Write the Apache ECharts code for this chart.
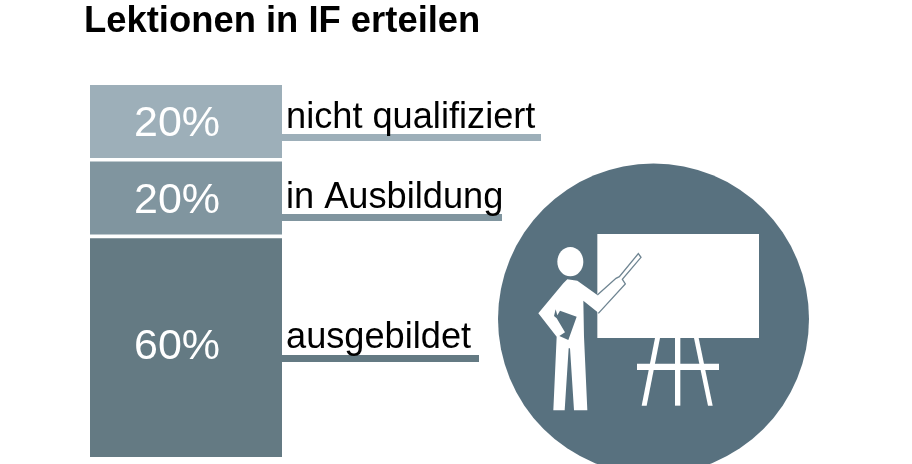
<!DOCTYPE html>
<html>
<head>
<meta charset="utf-8">
<style>
  html, body { margin: 0; background: #fff; }
  #chart { width: 912px; height: 464px; }
</style>
<script src="https://cdn.jsdelivr.net/npm/echarts@6/dist/echarts.min.js"></script>
</head>
<body>
<div id="chart"></div>
<script>
const titleText = 'Lektionen in IF erteilen'
const categories = ['Lektionen']
// bottom to top
const groupNames = ['ausgebildet', 'in Ausbildung', 'nicht qualifiziert']
const groupValues = [60, 20, 20]
const groupColors = ['#647a83', '#80959f', '#9dafb9']
// white space between two segments, in axis units
const gapValue = 1

const font = '"Liberation Sans", Arial, sans-serif'
const circleColor = '#58717f'

const series = []
groupValues.forEach((value, i) => {
  series.push({
    name: groupNames[i],
    type: 'bar',
    stack: 'share',
    barWidth: 192,
    silent: true,
    data: [value],
    itemStyle: { color: groupColors[i] },
    label: {
      show: true,
      position: 'inside',
      offset: [-9, i === 0 ? 0 : 3],
      formatter: '{c}%',
      color: '#fff',
      fontFamily: font,
      fontSize: 43
    }
  })
  if (i < groupValues.length - 1) {
    series.push({
      type: 'bar',
      stack: 'share',
      barWidth: 192,
      silent: true,
      data: [gapValue],
      itemStyle: { color: 'transparent' }
    })
  }
})

// leader under each label, top of the bar sits at the left end
const leaderRight = [479, 502, 541]
const leaderTop = [355, 214, 134]
const labelBottom = [356, 216, 136]

const leaders = groupNames.flatMap((name, i) => [
  {
    type: 'rect',
    shape: { x: 282, y: leaderTop[i], width: leaderRight[i] - 282, height: 7 },
    style: { fill: groupColors[i] }
  },
  {
    type: 'text',
    x: 286,
    y: labelBottom[i],
    style: {
      text: name,
      fill: '#000',
      font: '36.2px ' + font,
      textVerticalAlign: 'bottom'
    }
  }
])

function whitePoly(points) {
  return { type: 'polygon', shape: { points }, style: { fill: '#fff' } }
}

// pictogram, drawn on a 3x grid
const teacher = {
  type: 'group',
  x: 490,
  y: 160,
  scaleX: 1 / 3,
  scaleY: 1 / 3,
  children: [
    // board and easel
    { type: 'rect', shape: { x: 322, y: 222, width: 485, height: 312 }, style: { fill: '#fff' } },
    { type: 'rect', shape: { x: 441, y: 611, width: 246, height: 19 }, style: { fill: '#fff' } },
    { type: 'rect', shape: { x: 555, y: 534, width: 16, height: 203 }, style: { fill: '#fff' } },
    whitePoly([[495, 534], [510, 534], [470, 737], [455, 737]]),
    whitePoly([[612, 534], [626, 534], [668, 737], [654, 737]]),
    // person
    { type: 'ellipse', shape: { cx: 241, cy: 305, rx: 39, ry: 44 }, style: { fill: '#fff' } },
    whitePoly([
      [220, 370], [232, 358], [262, 362], [322, 405], [382, 355], [402, 372],
      [325, 458], [280, 422], [282, 530], [292, 751], [252, 751], [240, 565], [236, 565],
      [224, 751], [190, 751], [200, 530], [145, 460]
    ]),
    // book under the arm
    {
      type: 'polygon',
      shape: { points: [[210, 452], [260, 470], [235, 540], [208, 528], [225, 517], [200, 475], [192, 468], [197, 448], [202, 466]] },
      style: { fill: circleColor }
    },
    // outline of arm and pointer on the board
    whitePoly([[382, 355], [445, 282], [452, 292], [402, 372]]),
    {
      type: 'polyline',
      shape: {
        points: [[322, 405], [378, 355], [388, 350], [445, 281], [453, 292], [397, 358], [406, 372], [325, 460]]
      },
      style: { stroke: '#6f8592', lineWidth: 4, fill: null }
    }
  ]
}

const chart = echarts.init(document.getElementById('chart'), null, { renderer: 'canvas' })
chart.setOption({
  animation: false,
  backgroundColor: '#fff',
  title: {
    text: titleText,
    left: 84,
    top: 4,
    padding: 0,
    textStyle: { color: '#000', fontFamily: font, fontSize: 36.4, fontWeight: 'bold' }
  },
  grid: { left: 90, top: 85, width: 192, height: 372 },
  xAxis: { type: 'category', data: categories, show: false },
  yAxis: { type: 'value', min: 0, max: 102, show: false },
  series,
  graphic: [
    ...leaders,
    {
      type: 'circle',
      shape: { cx: 653.5, cy: 319, r: 155.5 },
      style: { fill: circleColor }
    },
    teacher
  ]
})
</script>
</body>
</html>
